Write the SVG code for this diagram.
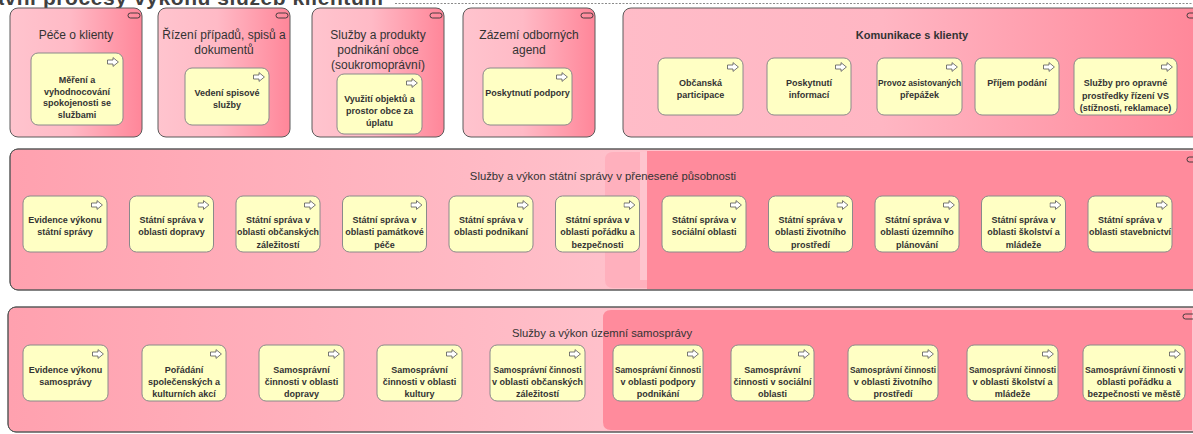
<svg xmlns="http://www.w3.org/2000/svg" width="1193" height="434" viewBox="0 0 1193 434">
<defs>
<linearGradient id="gSmall" x1="0" y1="0" x2="1" y2="0">
<stop offset="0" stop-color="#ffc4ce"/><stop offset="0.45" stop-color="#ffbac6"/><stop offset="1" stop-color="#ff8699"/>
</linearGradient>
<linearGradient id="gKom" gradientUnits="userSpaceOnUse" x1="623" y1="0" x2="1200" y2="0">
<stop offset="0" stop-color="#ffbcc8"/><stop offset="0.45" stop-color="#ffb6c3"/><stop offset="1" stop-color="#ff8799"/>
</linearGradient>
<linearGradient id="gBandL" gradientUnits="userSpaceOnUse" x1="10" y1="0" x2="640" y2="0">
<stop offset="0" stop-color="#ffa1af"/><stop offset="1" stop-color="#ffc2cc"/>
</linearGradient>
<symbol id="proc" viewBox="0 0 12 10">
<path d="M0.5,3 H6 V0.6 L11.4,5 L6,9.4 V7 H0.5 Z" fill="#ffffff" stroke="#555" stroke-width="0.8"/>
</symbol>
</defs>
<style>
.outer{stroke:#5a5a5a;stroke-width:1}
.node{fill:#ffffc4;stroke:#8a8a8a;stroke-width:1}
.cap{fill:none;stroke:#333;stroke-width:0.9}
.t{font-family:"Liberation Sans",Arial,sans-serif;font-size:9px;font-weight:bold;fill:#333;text-anchor:middle}
.h{font-family:"Liberation Sans",Arial,sans-serif;font-size:12px;fill:#333;text-anchor:middle}
.hb{font-family:"Liberation Sans",Arial,sans-serif;font-size:11px;font-weight:bold;fill:#333;text-anchor:middle}
.hm{font-family:"Liberation Sans",Arial,sans-serif;font-size:11.3px;fill:#333;text-anchor:middle}
</style>

<text x="-30" y="5" font-family="Liberation Sans, Arial, sans-serif" font-size="21" font-weight="bold" fill="#404040" textLength="413">Hlavní procesy výkonu služeb klientům</text>
<line x1="395" y1="3.5" x2="1193" y2="3.5" stroke="#8a8a8a" stroke-width="1" stroke-dasharray="2,1.5"/>

<g id="box-pece">
<rect class="outer" x="10" y="8" width="132" height="129" rx="8" fill="url(#gSmall)"/>
<rect class="cap" x="128" y="13" width="12" height="5" rx="2.5"/>
<text class="h" x="76" y="39">Péče o klienty</text>
</g>
<g id="node-mereni">
<rect class="node" x="31" y="53" width="92" height="72" rx="7"/>
<use href="#proc" x="107" y="57" width="12" height="10"/>
<text class="t"><tspan x="77" y="83">Měření a</tspan><tspan x="77" y="94.5">vyhodnocování</tspan><tspan x="77" y="106">spokojenosti se</tspan><tspan x="77" y="117.5">službami</tspan></text>
</g>

<g id="box-rizeni">
<rect class="outer" x="158" y="8" width="132" height="129" rx="8" fill="url(#gSmall)"/>
<rect class="cap" x="276" y="13" width="12" height="5" rx="2.5"/>
<text class="h"><tspan x="224" y="39">Řízení případů, spisů a</tspan><tspan x="224" y="54">dokumentů</tspan></text>
</g>
<g id="node-vedeni">
<rect class="node" x="185" y="68" width="84" height="57" rx="7"/>
<use href="#proc" x="253" y="72" width="12" height="10"/>
<text class="t"><tspan x="227" y="96">Vedení spisové</tspan><tspan x="227" y="108">služby</tspan></text>
</g>

<g id="box-sluzby-produkty">
<rect class="outer" x="312" y="8" width="132" height="129" rx="8" fill="url(#gSmall)"/>
<rect class="cap" x="430" y="13" width="12" height="5" rx="2.5"/>
<text class="h"><tspan x="378" y="39">Služby a produkty</tspan><tspan x="378" y="54">podnikání obce</tspan><tspan x="378" y="69">(soukromoprávní)</tspan></text>
</g>
<g id="node-vyuziti">
<rect class="node" x="337" y="74" width="85" height="60" rx="7"/>
<use href="#proc" x="406" y="78" width="12" height="10"/>
<text class="t"><tspan x="379.5" y="102">Využití objektů a</tspan><tspan x="379.5" y="114">prostor obce za</tspan><tspan x="379.5" y="126">úplatu</tspan></text>
</g>

<g id="box-zazemi">
<rect class="outer" x="463" y="8" width="132" height="129" rx="8" fill="url(#gSmall)"/>
<rect class="cap" x="581" y="13" width="12" height="5" rx="2.5"/>
<text class="h"><tspan x="529" y="39">Zázemí odborných</tspan><tspan x="529" y="54">agend</tspan></text>
</g>
<g id="node-podpora">
<rect class="node" x="483" y="68" width="89" height="57" rx="7"/>
<use href="#proc" x="556" y="72" width="12" height="10"/>
<text class="t" x="527.5" y="96">Poskytnutí podpory</text>
</g>

<g id="box-komunikace">
<rect class="outer" x="623" y="8" width="585" height="129" rx="8" fill="url(#gKom)"/>
<rect class="cap" x="1187" y="13" width="12" height="5" rx="2.5"/>
<text class="hb" x="912" y="39">Komunikace s klienty</text>
</g>
<g id="node-participace">
<rect class="node" x="658" y="58" width="85" height="57" rx="7"/>
<use href="#proc" x="727" y="62" width="12" height="10"/>
<text class="t"><tspan x="700.5" y="86">Občanská</tspan><tspan x="700.5" y="98">participace</tspan></text>
</g>
<g id="node-informace">
<rect class="node" x="767" y="58" width="84" height="57" rx="7"/>
<use href="#proc" x="835" y="62" width="12" height="10"/>
<text class="t"><tspan x="809" y="86">Poskytnutí</tspan><tspan x="809" y="98">informací</tspan></text>
</g>
<g id="node-prepazky">
<rect class="node" x="877" y="58" width="85" height="57" rx="7"/>
<use href="#proc" x="946" y="62" width="12" height="10"/>
<text class="t"><tspan x="919.5" y="86" textLength="83" lengthAdjust="spacingAndGlyphs">Provoz asistovaných</tspan><tspan x="919.5" y="98">přepážek</tspan></text>
</g>
<g id="node-podani">
<rect class="node" x="975" y="58" width="84" height="57" rx="7"/>
<use href="#proc" x="1043" y="62" width="12" height="10"/>
<text class="t" x="1017" y="86">Příjem podání</text>
</g>
<g id="node-opravne">
<rect class="node" x="1074" y="58" width="103" height="57" rx="7"/>
<use href="#proc" x="1161" y="62" width="12" height="10"/>
<text class="t"><tspan x="1125.5" y="86">Služby pro opravné</tspan><tspan x="1125.5" y="98.5">prostředky řízení VS</tspan><tspan x="1125.5" y="111">(stížnosti, reklamace)</tspan></text>
</g>

<g id="band-statni">
<rect class="outer" x="10" y="149" width="1198" height="141" rx="8" fill="url(#gBandL)"/>
<path d="M613,152 H1192 V288 H613 Q605,288 605,280 V160 Q605,152 613,152 Z" fill="#ffb0bd"/>
<rect x="647" y="151" width="550" height="138" fill="#ff8b9c"/>
<rect x="640" y="152" width="7" height="128" fill="#ffc4ce"/>
<rect x="10" y="149" width="1198" height="141" rx="8" fill="none" stroke="#5a5a5a" stroke-width="1"/>
<rect class="cap" x="1187" y="157" width="12" height="5" rx="2.5"/>
<text class="hm" x="603" y="180">Služby a výkon státní správy v přenesené působnosti</text>
</g>

<g id="n-s1"><rect class="node" x="23" y="196" width="84" height="56" rx="7"/><use href="#proc" x="91" y="200" width="12" height="10"/>
<text class="t"><tspan x="65" y="222.5">Evidence výkonu</tspan><tspan x="65" y="235">státní správy</tspan></text></g>
<g id="n-s2"><rect class="node" x="129.5" y="196" width="84" height="56" rx="7"/><use href="#proc" x="197.5" y="200" width="12" height="10"/>
<text class="t"><tspan x="171.5" y="222.5">Státní správa v</tspan><tspan x="171.5" y="235">oblasti dopravy</tspan></text></g>
<g id="n-s3"><rect class="node" x="236" y="196" width="84" height="56" rx="7"/><use href="#proc" x="304" y="200" width="12" height="10"/>
<text class="t"><tspan x="278" y="222.5">Státní správa v</tspan><tspan x="278" y="235" textLength="82" lengthAdjust="spacingAndGlyphs">oblasti občanských</tspan><tspan x="278" y="247.5">záležitostí</tspan></text></g>
<g id="n-s4"><rect class="node" x="342.5" y="196" width="84" height="56" rx="7"/><use href="#proc" x="410.5" y="200" width="12" height="10"/>
<text class="t"><tspan x="384.5" y="222.5">Státní správa v</tspan><tspan x="384.5" y="235">oblasti památkové</tspan><tspan x="384.5" y="247.5">péče</tspan></text></g>
<g id="n-s5"><rect class="node" x="449" y="196" width="84" height="56" rx="7"/><use href="#proc" x="517" y="200" width="12" height="10"/>
<text class="t"><tspan x="491" y="222.5">Státní správa v</tspan><tspan x="491" y="235">oblasti podnikaní</tspan></text></g>
<g id="n-s6"><rect class="node" x="555.5" y="196" width="84" height="56" rx="7"/><use href="#proc" x="623.5" y="200" width="12" height="10"/>
<text class="t"><tspan x="597.5" y="222.5">Státní správa v</tspan><tspan x="597.5" y="235">oblasti pořádku a</tspan><tspan x="597.5" y="247.5">bezpečnosti</tspan></text></g>
<g id="n-s7"><rect class="node" x="662" y="196" width="84" height="56" rx="7"/><use href="#proc" x="730" y="200" width="12" height="10"/>
<text class="t"><tspan x="704" y="222.5">Státní správa v</tspan><tspan x="704" y="235">sociální oblasti</tspan></text></g>
<g id="n-s8"><rect class="node" x="768.5" y="196" width="84" height="56" rx="7"/><use href="#proc" x="836.5" y="200" width="12" height="10"/>
<text class="t"><tspan x="810.5" y="222.5">Státní správa v</tspan><tspan x="810.5" y="235">oblasti životního</tspan><tspan x="810.5" y="247.5">prostředí</tspan></text></g>
<g id="n-s9"><rect class="node" x="875" y="196" width="84" height="56" rx="7"/><use href="#proc" x="943" y="200" width="12" height="10"/>
<text class="t"><tspan x="917" y="222.5">Státní správa v</tspan><tspan x="917" y="235">oblasti územního</tspan><tspan x="917" y="247.5">plánování</tspan></text></g>
<g id="n-s10"><rect class="node" x="981.5" y="196" width="84" height="56" rx="7"/><use href="#proc" x="1049.5" y="200" width="12" height="10"/>
<text class="t"><tspan x="1023.5" y="222.5">Státní správa v</tspan><tspan x="1023.5" y="235">oblasti školství a</tspan><tspan x="1023.5" y="247.5">mládeže</tspan></text></g>
<g id="n-s11"><rect class="node" x="1088" y="196" width="84" height="56" rx="7"/><use href="#proc" x="1156" y="200" width="12" height="10"/>
<text class="t"><tspan x="1130" y="222.5">Státní správa v</tspan><tspan x="1130" y="235" textLength="82" lengthAdjust="spacingAndGlyphs">oblasti stavebnictví</tspan></text></g>

<g id="band-samosprava">
<rect class="outer" x="8" y="307" width="1200" height="125" rx="8" fill="url(#gBandL)"/>
<path d="M611,310 H1192 V430 H611 Q603,430 603,422 V318 Q603,310 611,310 Z" fill="#ff8b9c"/>
<rect x="8" y="307" width="1200" height="125" rx="8" fill="none" stroke="#5a5a5a" stroke-width="1"/>
<rect class="cap" x="1183" y="314" width="12" height="5" rx="2.5"/>
<text class="hm" x="602" y="337">Služby a výkon územní samosprávy</text>
</g>

<g id="n-u1"><rect class="node" x="23" y="345" width="85" height="56" rx="7"/><use href="#proc" x="92" y="349" width="12" height="10"/>
<text class="t"><tspan x="65.5" y="373">Evidence výkonu</tspan><tspan x="65.5" y="385">samosprávy</tspan></text></g>
<g id="n-u2"><rect class="node" x="142" y="345" width="84" height="56" rx="7"/><use href="#proc" x="210" y="349" width="12" height="10"/>
<text class="t"><tspan x="184" y="373">Pořádání</tspan><tspan x="184" y="385">společenských a</tspan><tspan x="184" y="397">kulturních akcí</tspan></text></g>
<g id="n-u3"><rect class="node" x="259" y="345" width="85" height="56" rx="7"/><use href="#proc" x="328" y="349" width="12" height="10"/>
<text class="t"><tspan x="301.5" y="373">Samosprávní</tspan><tspan x="301.5" y="385">činnosti v oblasti</tspan><tspan x="301.5" y="397">dopravy</tspan></text></g>
<g id="n-u4"><rect class="node" x="377" y="345" width="85" height="56" rx="7"/><use href="#proc" x="446" y="349" width="12" height="10"/>
<text class="t"><tspan x="419.5" y="373">Samosprávní</tspan><tspan x="419.5" y="385">činnosti v oblasti</tspan><tspan x="419.5" y="397">kultury</tspan></text></g>
<g id="n-u5"><rect class="node" x="490" y="345" width="95" height="56" rx="7"/><use href="#proc" x="569" y="349" width="12" height="10"/>
<text class="t"><tspan x="537.5" y="373" textLength="88" lengthAdjust="spacingAndGlyphs">Samosprávní činnosti</tspan><tspan x="537.5" y="385">v oblasti občanských</tspan><tspan x="537.5" y="397">záležitostí</tspan></text></g>
<g id="n-u6"><rect class="node" x="613" y="345" width="90" height="56" rx="7"/><use href="#proc" x="687" y="349" width="12" height="10"/>
<text class="t"><tspan x="658" y="373" textLength="86" lengthAdjust="spacingAndGlyphs">Samosprávní činnosti</tspan><tspan x="658" y="385">v oblasti podpory</tspan><tspan x="658" y="397">podnikání</tspan></text></g>
<g id="n-u7"><rect class="node" x="731" y="345" width="83" height="56" rx="7"/><use href="#proc" x="798" y="349" width="12" height="10"/>
<text class="t"><tspan x="772.5" y="373">Samosprávní</tspan><tspan x="772.5" y="385">činnosti v sociální</tspan><tspan x="772.5" y="397">oblasti</tspan></text></g>
<g id="n-u8"><rect class="node" x="848" y="345" width="90" height="56" rx="7"/><use href="#proc" x="922" y="349" width="12" height="10"/>
<text class="t"><tspan x="893" y="373" textLength="86" lengthAdjust="spacingAndGlyphs">Samosprávní činnosti</tspan><tspan x="893" y="385">v oblasti životního</tspan><tspan x="893" y="397">prostředí</tspan></text></g>
<g id="n-u9"><rect class="node" x="967" y="345" width="91" height="56" rx="7"/><use href="#proc" x="1042" y="349" width="12" height="10"/>
<text class="t"><tspan x="1012.5" y="373" textLength="87" lengthAdjust="spacingAndGlyphs">Samosprávní činnosti</tspan><tspan x="1012.5" y="385">v oblasti školství a</tspan><tspan x="1012.5" y="397">mládeže</tspan></text></g>
<g id="n-u10"><rect class="node" x="1083" y="345" width="102" height="56" rx="7"/><use href="#proc" x="1169" y="349" width="12" height="10"/>
<text class="t"><tspan x="1134" y="373" textLength="98" lengthAdjust="spacingAndGlyphs">Samosprávní činnosti v</tspan><tspan x="1134" y="385">oblasti pořádku a</tspan><tspan x="1134" y="397">bezpečnosti ve městě</tspan></text></g>

<g id="connectors"></g>
</svg>
